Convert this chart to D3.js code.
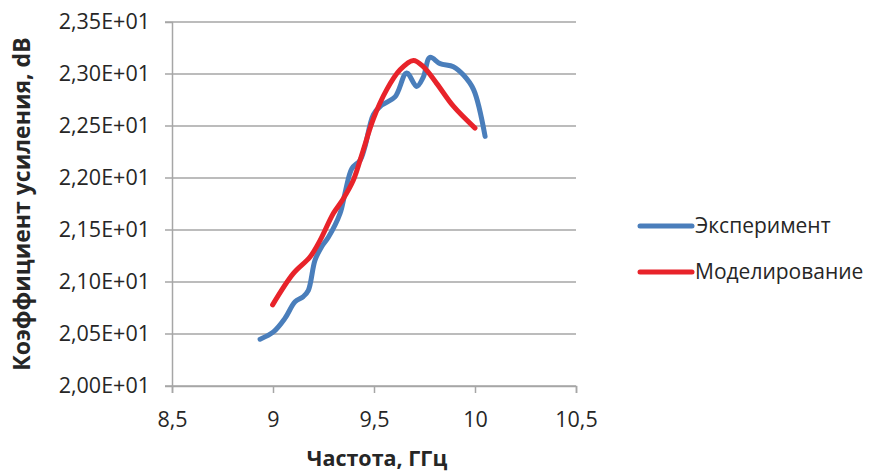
<!DOCTYPE html>
<html>
<head>
<meta charset="utf-8">
<script src="https://cdn.jsdelivr.net/npm/d3@7"></script>
<style>
  body { margin: 0; background: #fff; }
  text { font-family: "Open Sans", sans-serif; fill: #262626; }
</style>
</head>
<body>
<script>
// data
const expFreq = [8.936, 9.002, 9.059, 9.109, 9.150, 9.175, 9.208, 9.241, 9.274, 9.332, 9.356, 9.39, 9.431, 9.455, 9.497, 9.538, 9.604, 9.662, 9.711, 9.744, 9.777, 9.827, 9.893, 9.943, 9.993, 10.05]
const expGain = [20.45, 20.52, 20.65, 20.81, 20.86, 20.92, 21.21, 21.34, 21.43, 21.66, 21.85, 22.09, 22.17, 22.30, 22.61, 22.70, 22.78, 23.01, 22.88, 22.97, 23.16, 23.10, 23.07, 22.99, 22.85, 22.40]
const simFreq = [8.998, 9.10, 9.183, 9.233, 9.299, 9.348, 9.398, 9.447, 9.497, 9.563, 9.629, 9.695, 9.744, 9.81, 9.893, 10.0]
const simGain = [20.78, 21.08, 21.24, 21.40, 21.66, 21.80, 21.98, 22.27, 22.57, 22.85, 23.04, 23.13, 23.07, 22.91, 22.69, 22.48]
const xTicks = [8.5, 9, 9.5, 10, 10.5]
const yTicks = [20, 20.5, 21, 21.5, 22, 22.5, 23, 23.5]
const seriesNames = ["Эксперимент", "Моделирование"]
const seriesColors = ["#4a7ebb", "#e8232a"]

const W = 880, H = 473
const mLeft = 172, mRight = 576, mTop = 22, mBottom = 386

const svg = d3.select("body").append("svg")
    .attr("width", W)
    .attr("height", H)

const x = d3.scaleLinear().domain([8.5, 10.5]).range([mLeft, mRight])
const y = d3.scaleLinear().domain([20, 23.5]).range([mBottom, mTop])

// gridlines
svg.append("g")
    .selectAll("line")
    .data(yTicks)
    .enter()
    .append("line")
    .attr("x1", mLeft - 7)
    .attr("x2", mRight)
    .attr("y1", d => y(d))
    .attr("y2", d => y(d))
    .attr("stroke", "#a6a6a6")
    .attr("stroke-width", 1.5)

const fmt = d => d3.format(".2f")(d / 10).replace(".", ",") + "E+01"

const yAxis = svg.append("g")
    .attr("transform", "translate(" + mLeft + ",0)")
    .call(d3.axisLeft(y).tickValues(yTicks).tickFormat(fmt).tickSize(7).tickPadding(15))
yAxis.select(".domain").attr("stroke", "#a6a6a6").attr("stroke-width", 1.5)
yAxis.selectAll(".tick line").attr("stroke", "none")
yAxis.selectAll("text").style("font-size", "21.5px").attr("fill", "#262626")

const xAxis = svg.append("g")
    .attr("transform", "translate(0," + mBottom + ")")
    .call(d3.axisBottom(x).tickValues(xTicks).tickFormat(d => String(d).replace(".", ",")).tickSize(7).tickPadding(19))
xAxis.select(".domain").attr("stroke", "#a6a6a6").attr("stroke-width", 1.5)
xAxis.selectAll(".tick line").attr("stroke", "#a6a6a6").attr("stroke-width", 1.5)
xAxis.selectAll("text").style("font-size", "21.5px").attr("fill", "#262626")

const line = d3.line()
    .x(d => x(d[0]))
    .y(d => y(d[1]))
    .curve(d3.curveCatmullRom.alpha(0.5))

const series = [
    d3.zip(expFreq, expGain),
    d3.zip(simFreq, simGain)
]

svg.selectAll("path.series")
    .data(series)
    .enter()
    .append("path")
    .attr("class", "series")
    .attr("d", line)
    .attr("fill", "none")
    .attr("stroke", (d, i) => seriesColors[i])
    .attr("stroke-width", 5)
    .attr("stroke-linecap", "round")
    .attr("stroke-linejoin", "round")

// axis titles
svg.append("text")
    .attr("x", 377)
    .attr("y", 466)
    .attr("text-anchor", "middle")
    .style("font-size", "21.5px")
    .style("font-weight", "bold")
    .text("Частота, ГГц")

svg.append("text")
    .attr("transform", "translate(30," + ((mTop + mBottom) / 2) + ") rotate(-90)")
    .attr("text-anchor", "middle")
    .style("font-size", "23px")
    .style("font-weight", "bold")
    .text("Коэффициент усиления, dB")

// legend
const legend = svg.selectAll("g.legend")
    .data(seriesNames)
    .enter()
    .append("g")
    .attr("class", "legend")
    .attr("transform", (d, i) => "translate(638," + (226 + i * 46) + ")")
legend.append("line")
    .attr("x1", 2)
    .attr("x2", 54)
    .attr("stroke", (d, i) => seriesColors[i])
    .attr("stroke-width", 5)
    .attr("stroke-linecap", "round")
legend.append("text")
    .attr("x", 57)
    .attr("dy", "0.35em")
    .style("font-size", "21px")
    .text(d => d)
</script>
</body>
</html>
